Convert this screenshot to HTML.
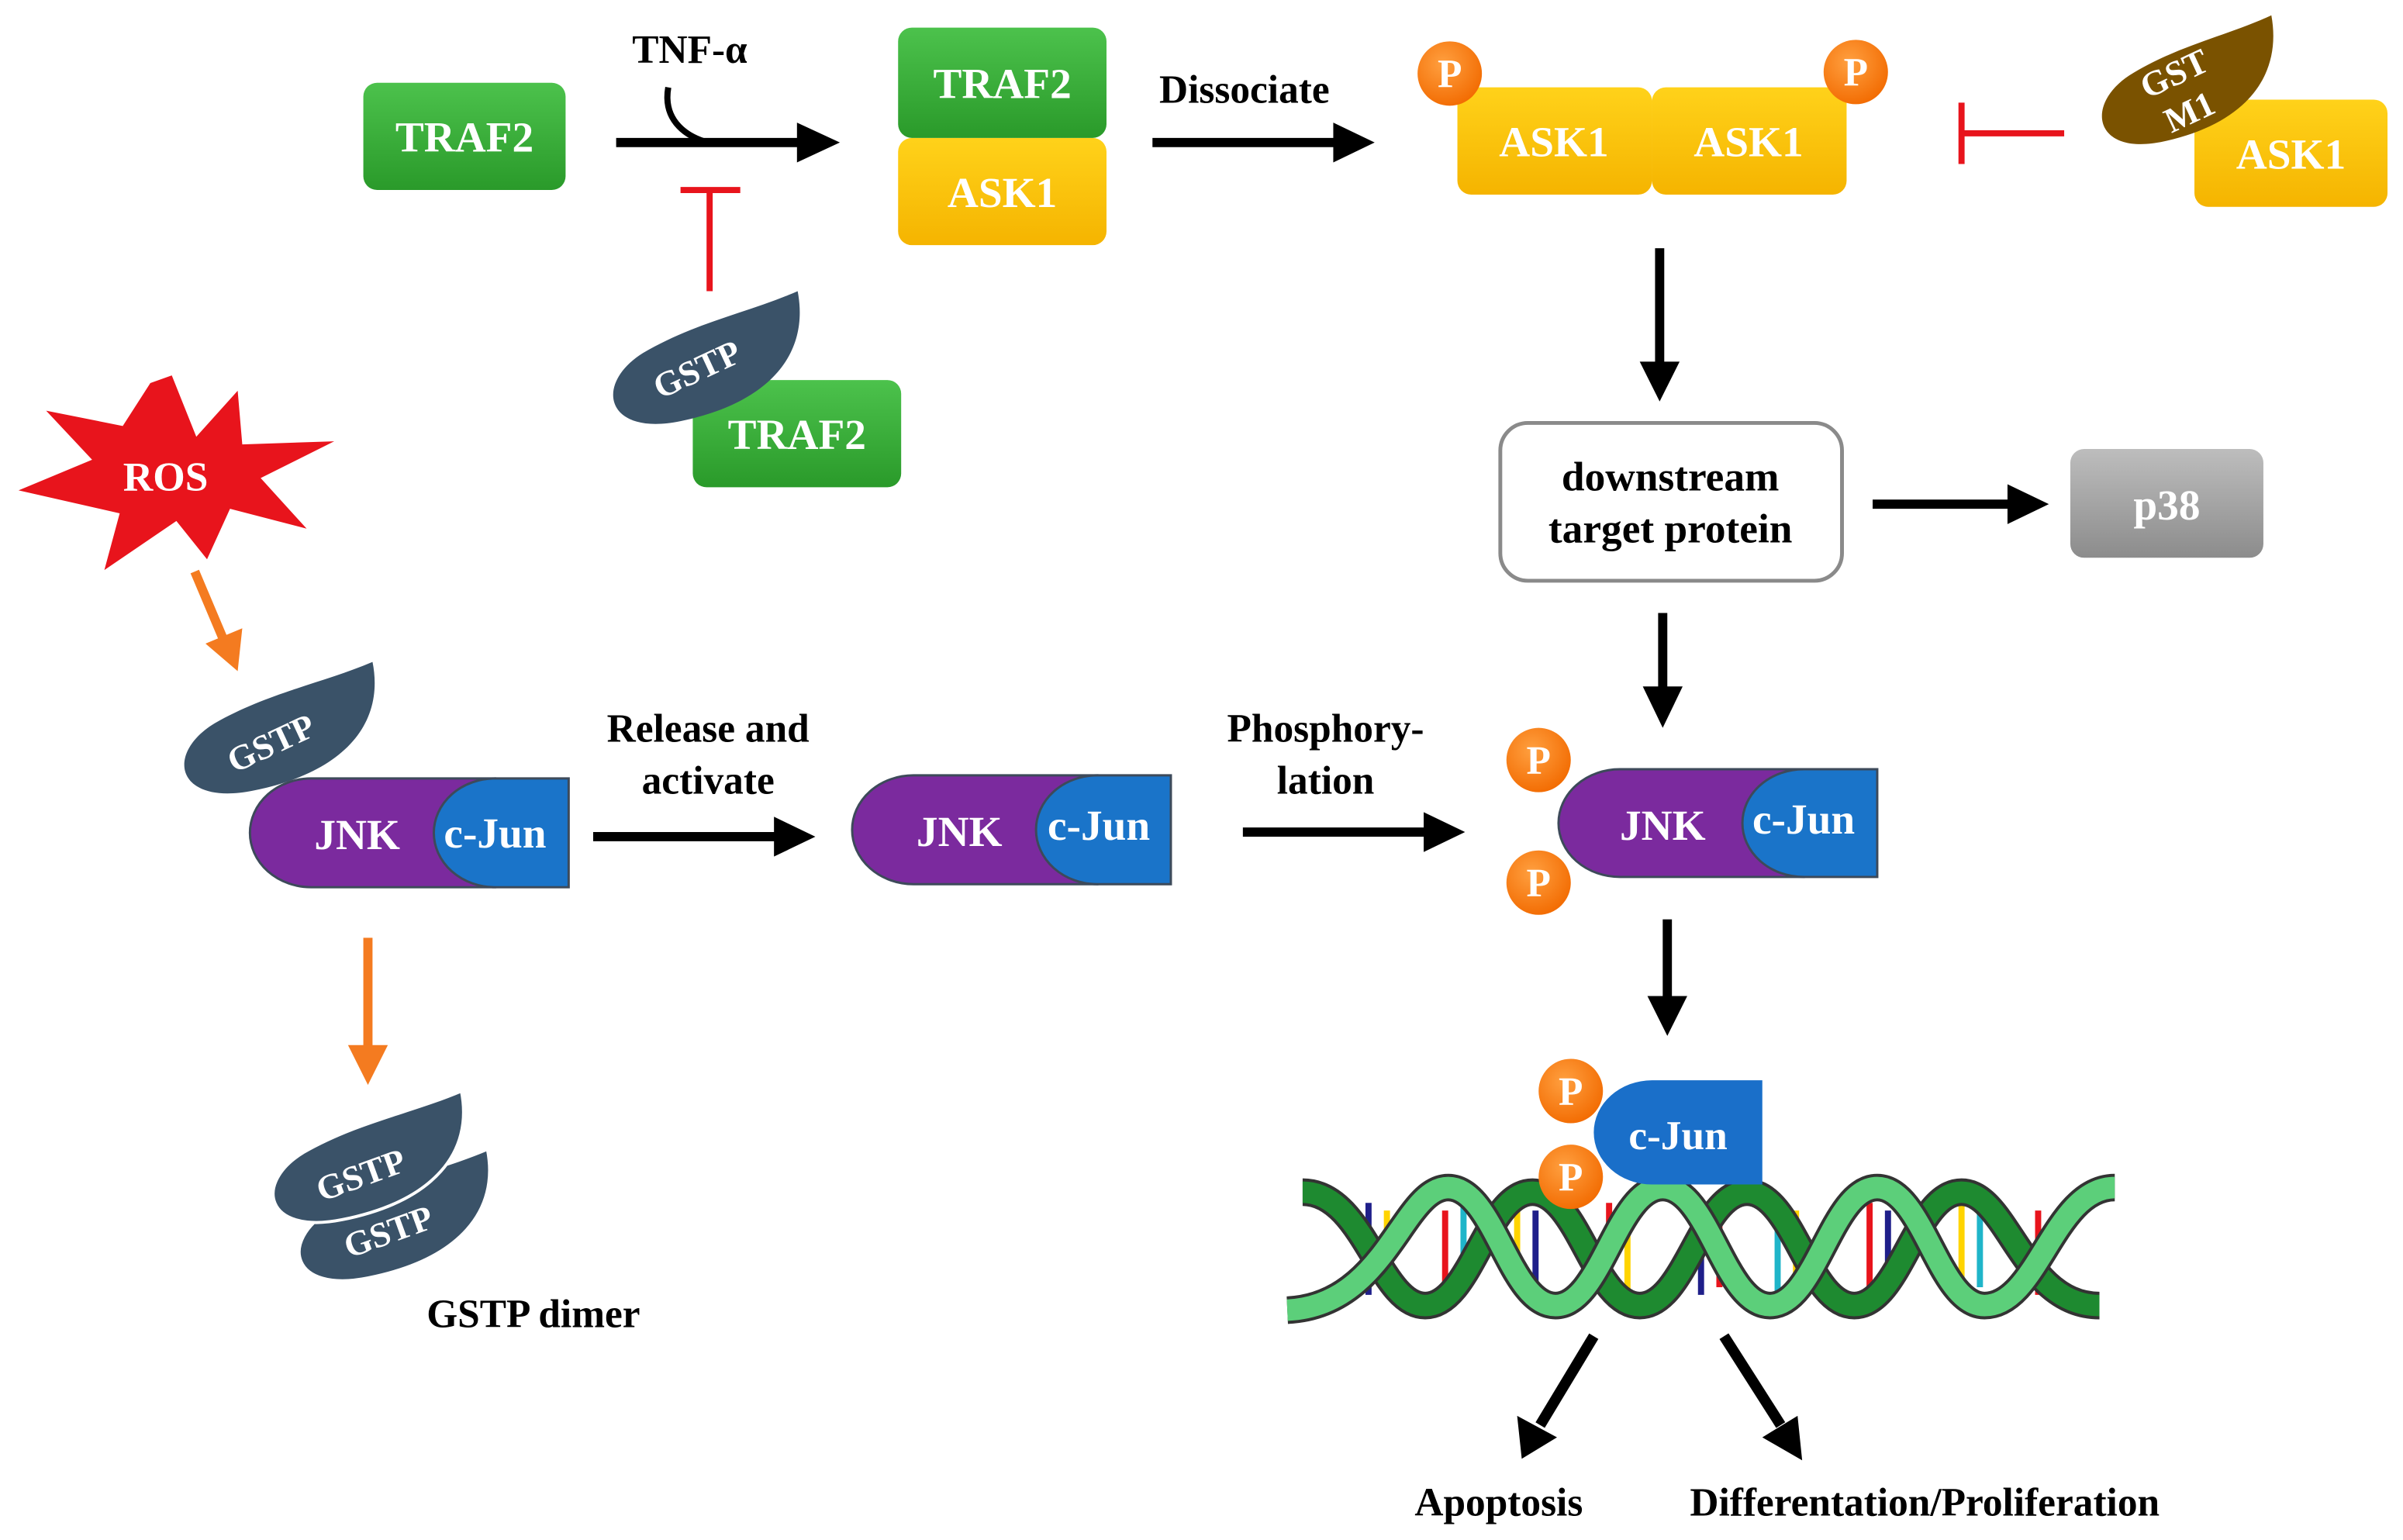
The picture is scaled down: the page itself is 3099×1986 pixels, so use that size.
<!DOCTYPE html>
<html><head><meta charset="utf-8"><style>html,body{margin:0;padding:0;background:#fff}svg{display:block}text{font-family:"Liberation Serif",serif;font-weight:bold}</style></head><body>
<svg width="3099" height="1986" viewBox="0 0 1568 1005" xmlns="http://www.w3.org/2000/svg">
<defs>
<linearGradient id="gr" x1="0" y1="0" x2="0" y2="1"><stop offset="0" stop-color="#4cc24c"/><stop offset="1" stop-color="#2a9a2a"/></linearGradient>
<linearGradient id="ye" x1="0" y1="0" x2="0" y2="1"><stop offset="0" stop-color="#ffd21a"/><stop offset="1" stop-color="#f5b400"/></linearGradient>
<linearGradient id="gy" x1="0" y1="0" x2="0" y2="1"><stop offset="0" stop-color="#bdbdbd"/><stop offset="1" stop-color="#8c8c8c"/></linearGradient>
<radialGradient id="po" cx="0.4" cy="0.35" r="0.7"><stop offset="0" stop-color="#ffa040"/><stop offset="1" stop-color="#f26a00"/></radialGradient>
<path id="leaf" d="M128,0 C136,40 110,72 50,84 C0,94 -8,60 25,40 C60,20 95,14 128,0 Z"/>
<g id="jc">
<path d="M40,0 H160 V71 H40 A40,35.5 0 0 1 0,35.5 A40,35.5 0 0 1 40,0 Z" fill="#7b2a9e" stroke="#3d4a5a" stroke-width="1.5"/>
<path d="M160,0 H208 V71 H160 A40,35.5 0 0 1 120,35.5 A40,35.5 0 0 1 160,0 Z" fill="#1a74c9" stroke="#3d4a5a" stroke-width="1.5"/>
</g>
<g id="pp"><circle r="21" fill="url(#po)"/><text y="9" text-anchor="middle" font-size="26" fill="#fff">P</text></g>
<path id="s1" d="M850,778 C890,778 900,852 930,852 C960,852 970,778 1000,778 C1030,778 1040,852 1070,852 C1100,852 1110,778 1140,778 C1170,778 1180,852 1210,852 C1240,852 1250,778 1280,778 C1310,778 1320,852 1370,852" fill="none"/>
<path id="s2" d="M840,775 C880,775 890,852 925,852 C955,852 965,775 995,775 C1025,775 1035,852 1065,852 C1095,852 1105,775 1135,775 C1165,775 1175,852 1205,852 C1235,852 1245,775 1275,775 C1305,775 1315,852 1380,855" fill="none" transform="translate(870,0) scale(-1,1) translate(-1350,0)"/>
</defs>

<!-- Top row -->
<rect x="237" y="54" width="132" height="70" rx="9" fill="url(#gr)"/>
<text x="303" y="99" text-anchor="middle" font-size="28" fill="#fff">TRAF2</text>
<text x="450" y="41" text-anchor="middle" font-size="26">TNF-α</text>
<path d="M436,57 C432,80 450,90 462,93" fill="none" stroke="#000" stroke-width="4"/>
<line x1="402" y1="93" x2="522" y2="93" stroke="#000" stroke-width="6"/>
<polygon points="520,80 548,93 520,106" fill="#000"/>
<line x1="463" y1="190" x2="463" y2="124" stroke="#e8141c" stroke-width="4"/>
<line x1="444" y1="124" x2="483" y2="124" stroke="#e8141c" stroke-width="4"/>
<rect x="452" y="248" width="136" height="70" rx="9" fill="url(#gr)"/>
<text x="520" y="293" text-anchor="middle" font-size="28" fill="#fff">TRAF2</text>
<use href="#leaf" transform="translate(395,190) scale(0.98,1.01)" fill="#3a5268"/>
<text transform="translate(458,248) rotate(-25)" text-anchor="middle" font-size="23" fill="#fff">GSTP</text>

<rect x="586" y="90" width="136" height="70" rx="9" fill="url(#ye)"/>
<text x="654" y="135" text-anchor="middle" font-size="28" fill="#fff">ASK1</text>
<rect x="586" y="18" width="136" height="72" rx="9" fill="url(#gr)"/>
<text x="654" y="64" text-anchor="middle" font-size="28" fill="#fff">TRAF2</text>

<text x="812" y="67" text-anchor="middle" font-size="26">Dissociate</text>
<line x1="752" y1="93" x2="872" y2="93" stroke="#000" stroke-width="6"/>
<polygon points="870,80 897,93 870,106" fill="#000"/>

<rect x="951" y="57" width="127" height="70" rx="9" fill="url(#ye)"/>
<rect x="1078" y="57" width="127" height="70" rx="9" fill="url(#ye)"/>
<text x="1014" y="102" text-anchor="middle" font-size="28" fill="#fff">ASK1</text>
<text x="1141" y="102" text-anchor="middle" font-size="28" fill="#fff">ASK1</text>
<use href="#pp" x="946" y="48"/>
<use href="#pp" x="1211" y="47"/>

<line x1="1347" y1="87" x2="1280" y2="87" stroke="#e8141c" stroke-width="4"/>
<line x1="1280" y1="67" x2="1280" y2="107" stroke="#e8141c" stroke-width="4"/>
<rect x="1432" y="65" width="126" height="70" rx="9" fill="url(#ye)"/>
<text x="1495" y="110" text-anchor="middle" font-size="28" fill="#fff">ASK1</text>
<use href="#leaf" transform="translate(1367,10) scale(0.9,0.98)" fill="#7a5200"/>
<text transform="translate(1422,55) rotate(-25)" text-anchor="middle" font-size="23" fill="#fff">GST</text>
<text transform="translate(1432,80) rotate(-25)" text-anchor="middle" font-size="23" fill="#fff">M1</text>

<line x1="1083" y1="162" x2="1083" y2="238" stroke="#000" stroke-width="6"/>
<polygon points="1070,236 1083,262 1096,236" fill="#000"/>
<rect x="979" y="276" width="223" height="103" rx="18" fill="#fff" stroke="#8a8a8a" stroke-width="2.5"/>
<text x="1090" y="320" text-anchor="middle" font-size="27">downstream</text>
<text x="1090" y="354" text-anchor="middle" font-size="27">target protein</text>
<line x1="1222" y1="329" x2="1312" y2="329" stroke="#000" stroke-width="6"/>
<polygon points="1310,316 1337,329 1310,342" fill="#000"/>
<rect x="1351" y="293" width="126" height="71" rx="9" fill="url(#gy)"/>
<text x="1414" y="339" text-anchor="middle" font-size="28" fill="#fff">p38</text>
<line x1="1085" y1="400" x2="1085" y2="450" stroke="#000" stroke-width="6"/>
<polygon points="1072,448 1085,475 1098,448" fill="#000"/>

<!-- ROS -->
<polygon fill="#e8141c" points="112,245 128,285 155,255 158,290 218,288 170,312 200,345 150,332 135,365 115,340 68,372 78,335 12,320 60,300 30,268 80,278 98,250"/>
<text x="108" y="320" text-anchor="middle" font-size="27" fill="#fff">ROS</text>
<line x1="127" y1="373" x2="146" y2="418" stroke="#f47b20" stroke-width="6"/>
<polygon points="134,420 155,438 158,410" fill="#f47b20"/>

<use href="#leaf" transform="translate(115,432)" fill="#3a5268"/>
<use href="#jc" transform="translate(163,508)"/>
<text transform="translate(180,492) rotate(-25)" text-anchor="middle" font-size="23" fill="#fff">GSTP</text>
<text x="233" y="554" text-anchor="middle" font-size="28" fill="#fff">JNK</text>
<text x="323" y="553" text-anchor="middle" font-size="28" fill="#fff">c-Jun</text>

<line x1="240" y1="612" x2="240" y2="684" stroke="#f47b20" stroke-width="6"/>
<polygon points="227,682 240,708 253,682" fill="#f47b20"/>
<use href="#leaf" transform="translate(190,750)" fill="#3a5268" stroke="#fff" stroke-width="2"/>
<use href="#leaf" transform="translate(173,712)" fill="#3a5268" stroke="#fff" stroke-width="2"/>
<text transform="translate(238,774) rotate(-20)" text-anchor="middle" font-size="23" fill="#fff">GSTP</text>
<text transform="translate(256,811) rotate(-20)" text-anchor="middle" font-size="23" fill="#fff">GSTP</text>
<text x="348" y="866" text-anchor="middle" font-size="26">GSTP dimer</text>

<text x="462" y="484" text-anchor="middle" font-size="26">Release and</text>
<text x="462" y="518" text-anchor="middle" font-size="26">activate</text>
<line x1="387" y1="546" x2="507" y2="546" stroke="#000" stroke-width="6"/>
<polygon points="505,533 532,546 505,559" fill="#000"/>
<use href="#jc" transform="translate(556,506)"/>
<text x="626" y="552" text-anchor="middle" font-size="28" fill="#fff">JNK</text>
<text x="717" y="548" text-anchor="middle" font-size="28" fill="#fff">c-Jun</text>

<text x="865" y="484" text-anchor="middle" font-size="26">Phosphory-</text>
<text x="865" y="518" text-anchor="middle" font-size="26">lation</text>
<line x1="811" y1="543" x2="931" y2="543" stroke="#000" stroke-width="6"/>
<polygon points="929,530 956,543 929,556" fill="#000"/>
<use href="#jc" transform="translate(1017,502) scale(1,0.99)"/>
<text x="1085" y="548" text-anchor="middle" font-size="28" fill="#fff">JNK</text>
<text x="1177" y="544" text-anchor="middle" font-size="28" fill="#fff">c-Jun</text>
<use href="#pp" x="1004" y="496"/>
<use href="#pp" x="1004" y="576"/>

<line x1="1088" y1="600" x2="1088" y2="652" stroke="#000" stroke-width="6"/>
<polygon points="1075,650 1088,676 1101,650" fill="#000"/>

<!-- DNA -->
<g stroke-width="4">
<line x1="893" y1="785" x2="893" y2="845" stroke="#1f1f8a"/><line x1="905" y1="790" x2="905" y2="835" stroke="#ffd400"/>
<line x1="943" y1="790" x2="943" y2="840" stroke="#e8141c"/><line x1="955" y1="785" x2="955" y2="845" stroke="#1fb5c9"/>
<line x1="990" y1="785" x2="990" y2="845" stroke="#ffd400"/><line x1="1002" y1="790" x2="1002" y2="840" stroke="#1f1f8a"/>
<line x1="1050" y1="785" x2="1050" y2="840" stroke="#e8141c"/><line x1="1062" y1="790" x2="1062" y2="845" stroke="#ffd400"/>
<line x1="1110" y1="790" x2="1110" y2="845" stroke="#1f1f8a"/><line x1="1122" y1="785" x2="1122" y2="840" stroke="#e8141c"/>
<line x1="1160" y1="785" x2="1160" y2="845" stroke="#1fb5c9"/><line x1="1172" y1="790" x2="1172" y2="840" stroke="#ffd400"/>
<line x1="1220" y1="785" x2="1220" y2="845" stroke="#e8141c"/><line x1="1232" y1="790" x2="1232" y2="840" stroke="#1f1f8a"/>
<line x1="1280" y1="785" x2="1280" y2="845" stroke="#ffd400"/><line x1="1292" y1="790" x2="1292" y2="840" stroke="#1fb5c9"/>
<line x1="1330" y1="790" x2="1330" y2="845" stroke="#e8141c"/>
</g>
<use href="#s1" stroke="#333" stroke-width="18"/>
<use href="#s1" stroke="#1e8a30" stroke-width="14"/>
<use href="#s2" stroke="#333" stroke-width="18"/>
<use href="#s2" stroke="#5ccf7a" stroke-width="14"/>

<path d="M1078,705 H1150 V773 H1078 A38,34 0 0 1 1040,739 A38,34 0 0 1 1078,705 Z" fill="#1a6fc9"/>
<text x="1095" y="750" text-anchor="middle" font-size="27" fill="#fff">c-Jun</text>
<use href="#pp" x="1025" y="712"/>
<use href="#pp" x="1025" y="768"/>

<line x1="1040" y1="872" x2="1005" y2="930" stroke="#000" stroke-width="7"/>
<polygon points="990,924 993,952 1016,938" fill="#000"/>
<line x1="1125" y1="872" x2="1162" y2="930" stroke="#000" stroke-width="7"/>
<polygon points="1150,938 1176,953 1173,924" fill="#000"/>
<text x="978" y="989" text-anchor="middle" font-size="26">Apoptosis</text>
<text x="1256" y="989" text-anchor="middle" font-size="26">Differentation/Proliferation</text>
</svg>
</body></html>
